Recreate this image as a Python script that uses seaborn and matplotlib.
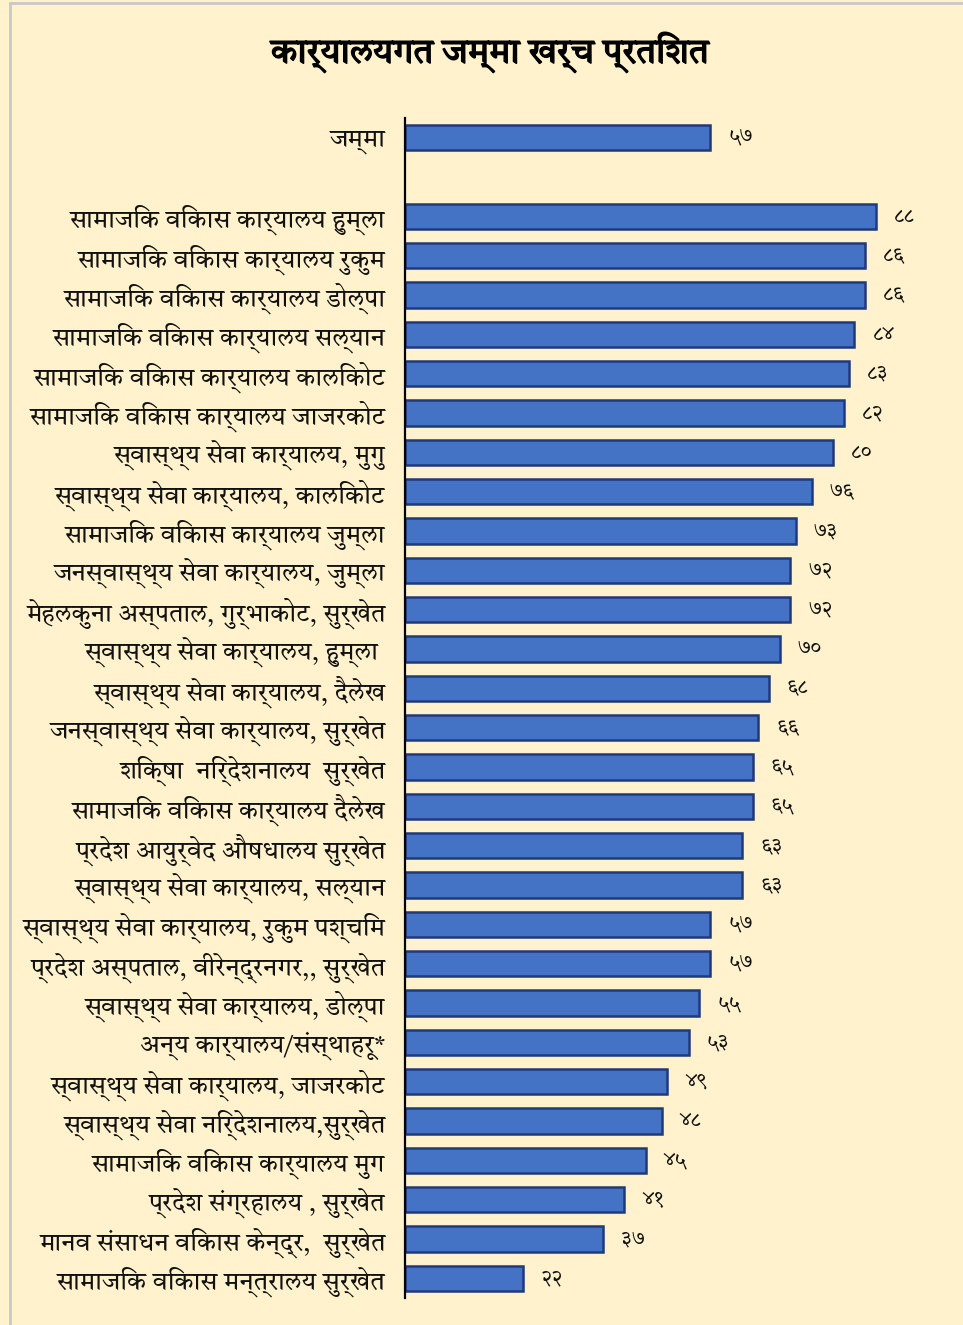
import matplotlib
matplotlib.use("Agg")
import matplotlib.pyplot as plt
import matplotlib.patheffects as pe
import seaborn as sns
import pandas as pd
from matplotlib import font_manager
from matplotlib.patches import Rectangle

# ---------------- data ----------------
title = "कार्यालयगत जम्मा खर्च प्रतिशत"
total_label = "जम्मा"
total_value = 57
offices = [
    "सामाजिक विकास कार्यालय हुम्ला",
    "सामाजिक विकास कार्यालय रुकुम",
    "सामाजिक विकास कार्यालय डोल्पा",
    "सामाजिक विकास कार्यालय सल्यान",
    "सामाजिक विकास कार्यालय कालिकोट",
    "सामाजिक विकास कार्यालय जाजरकोट",
    "स्वास्थ्य सेवा कार्यालय, मुगु",
    "स्वास्थ्य सेवा कार्यालय, कालिकोट",
    "सामाजिक विकास कार्यालय जुम्ला",
    "जनस्वास्थ्य सेवा कार्यालय, जुम्ला",
    "मेहलकुना अस्पताल, गुर्भाकोट, सुर्खेत",
    "स्वास्थ्य सेवा कार्यालय, हुम्ला ",
    "स्वास्थ्य सेवा कार्यालय, दैलेख",
    "जनस्वास्थ्य सेवा कार्यालय, सुर्खेत",
    "शिक्षा  निर्देशनालय  सुर्खेत",
    "सामाजिक विकास कार्यालय दैलेख",
    "प्रदेश आयुर्वेद औषधालय सुर्खेत",
    "स्वास्थ्य सेवा कार्यालय, सल्यान",
    "स्वास्थ्य सेवा कार्यालय, रुकुम पश्चिम",
    "प्रदेश अस्पताल, वीरेन्द्रनगर,, सुर्खेत",
    "स्वास्थ्य सेवा कार्यालय, डोल्पा",
    "अन्य कार्यालय/संस्थाहरू*",
    "स्वास्थ्य सेवा कार्यालय, जाजरकोट",
    "स्वास्थ्य सेवा निर्देशनालय,सुर्खेत",
    "सामाजिक विकास कार्यालय मुग",
    "प्रदेश संग्रहालय , सुर्खेत",
    "मानव संसाधन विकास केन्द्र,  सुर्खेत",
    "सामाजिक विकास मन्त्रालय सुर्खेत",
]
values = [88, 86, 86, 84, 83, 82, 80, 76, 73, 72, 72, 70, 68, 66, 65, 65,
          63, 63, 57, 57, 55, 53, 49, 48, 45, 41, 37, 22]

# ---------------- font detection ----------------
def find_devanagari_font():
    try:
        from fontTools.ttLib import TTFont
    except Exception:
        return None
    best = None
    for f in font_manager.fontManager.ttflist:
        try:
            tt = TTFont(f.fname, fontNumber=0, lazy=True)
            cmap = tt.getBestCmap()
            if cmap and 0x0915 in cmap and 0x0967 in cmap:
                if best is None or "Devanagari" in f.name:
                    best = f.name
        except Exception:
            continue
    return best

deva = find_devanagari_font()
sns.set_theme(style="white")
families = ([deva] if deva else []) + ["Noto Sans", "DejaVu Sans"]
plt.rcParams["font.family"] = families

DEVA_DIGITS = str.maketrans("0123456789", "०१२३४५६७८९")
def to_deva(v):
    return str(int(round(v))).translate(DEVA_DIGITS)

# ---------------- frame ----------------
blank = " "
order = [total_label, blank] + offices
df = pd.DataFrame({"office": [total_label] + offices,
                   "value": [total_value] + values})

bg = "#FFF2CC"
W, H = 963, 1325
fig = plt.figure(figsize=(W / 100, H / 100), dpi=100, facecolor=bg)
ax = fig.add_axes([405 / W, 1 - 1298 / H, 535 / W, (1298 - 118) / H])
ax.set_facecolor(bg)

sns.barplot(data=df, x="value", y="office", order=order, orient="h",
            color="#4472C4", edgecolor="#1F3A7A", linewidth=1.8,
            width=0.64, saturation=1, ax=ax)

ax.set_xlim(0, 100)
ax.set_ylim(len(order) - 0.5, -0.5)
ax.set_xlabel("")
ax.set_ylabel("")
ax.set_xticks([])
ax.tick_params(axis="y", length=0, pad=14, labelsize=18, labelcolor="#111111")
for s in ["top", "right", "bottom"]:
    ax.spines[s].set_visible(False)
ax.spines["left"].set_color("black")
ax.spines["left"].set_linewidth(1.6)

for cont in ax.containers:
    ax.bar_label(cont, fmt=to_deva, padding=13, fontsize=15, color="#111111")

fig.text(490 / W, 1 - 52 / H, title, ha="center", va="center",
         fontsize=25, fontweight="bold", color="black",
         path_effects=[pe.withStroke(linewidth=1.0, foreground="black")])

fig.patches.append(Rectangle((10 / W, -0.01), 1.0, 1 - 3 / H + 0.01,
                             transform=fig.transFigure, fill=False,
                             edgecolor="#C8C8C8", linewidth=2))

fig.savefig("out.png", dpi=100, facecolor=bg)
